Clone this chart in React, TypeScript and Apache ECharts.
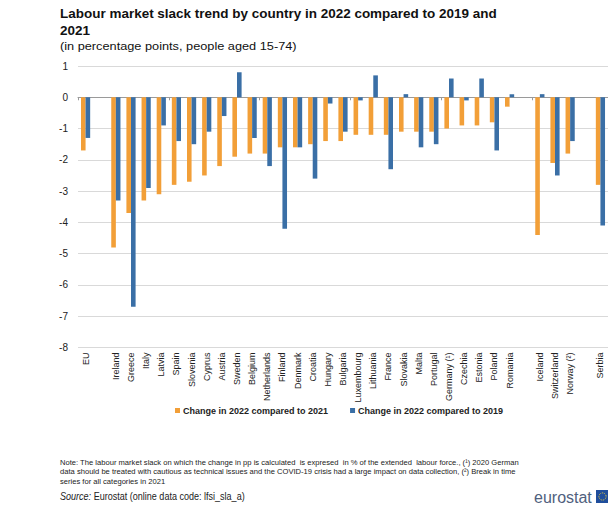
import React, { useEffect, useRef } from "react";
import * as echarts from "echarts";

const categories = [
  "EU", " ", "Ireland", "Greece", "Italy", "Latvia", "Spain", "Slovenia", "Cyprus", "Austria",
  "Sweden", "Belgium", "Netherlands", "Finland", "Denmark", "Croatia", "Hungary", "Bulgaria",
  "Luxembourg", "Lithuania", "France", "Slovakia", "Malta", "Portugal", "Germany (¹)", "Czechia",
  "Estonia", "Poland", "Romania", "  ", "Iceland", "Switzerland", "Norway (²)", "   ", "Serbia",
];

const change2021 = [
  -1.7, null, -4.8, -3.7, -3.3, -3.1, -2.8, -2.7, -2.5, -2.2,
  -1.9, -1.8, -1.8, -1.6, -1.6, -1.5, -1.4, -1.4,
  -1.2, -1.2, -1.2, -1.1, -1.1, -1.1, -1.0, -0.9,
  -0.9, -0.8, -0.3, null, -4.4, -2.1, -1.8, null, -2.8,
];

const change2019 = [
  -1.3, null, -3.3, -6.7, -2.9, -0.9, -1.4, -1.5, -1.1, -0.6,
  0.8, -1.3, -2.2, -4.2, -1.6, -2.6, -0.2, -1.1,
  -0.1, 0.7, -2.3, 0.1, -1.6, -1.5, 0.6, -0.1,
  0.6, -1.7, 0.1, null, 0.1, -2.5, -1.4, null, -4.1,
];

const seriesNames = ["Change in 2022 compared to 2021", "Change in 2022 compared to 2019"];
const colors = ["#F29F38", "#3A6FA6"];

const titleLines = [
  "Labour market slack trend by country in 2022 compared to 2019 and",
  "2021",
];
const subtitle = "(in percentage points, people aged 15-74)";
const noteLines = [
  "Note: The labour market slack on which the change in pp is calculated  is expresed  in % of the extended  labour force., (¹) 2020 German",
  "data should be treated with cautious as technical issues and the COVID-19 crisis had a large impact on data collection, (²) Break in time",
  "series for all categories in 2021",
];

const FONT = "'Liberation Sans', Arial, sans-serif";

function measure(text: string, font: string): number {
  const c = document.createElement("canvas").getContext("2d");
  if (!c) return text.length * 5;
  c.font = font;
  return c.measureText(text).width;
}

function fit(text: string, font: string, target: number): number {
  const w = measure(text, font);
  if (!w) return 1;
  return target / w;
}

export default function App() {
  const ref = useRef<HTMLDivElement>(null);

  useEffect(() => {
    if (!ref.current) return;
    const chart = echarts.init(ref.current, null, { renderer: "svg" });

    const titleFont = `bold 13px ${FONT}`;
    const subFont = `11.5px ${FONT}`;
    const noteFont = `8px ${FONT}`;
    const srcFont = `10px ${FONT}`;

    const titleScale = fit(titleLines[0], titleFont, 437);
    const noteScale = fit(noteLines[0], noteFont, 459);
    const srcText = "Source: Eurostat (online data code: lfsi_sla_a)";
    const srcScale = fit(srcText, srcFont, 185);

    const graphic: any[] = [
      {
        type: "text", x: 60, y: 14, scaleX: titleScale,
        style: { text: titleLines[0], font: titleFont, fill: "#111", textVerticalAlign: "middle" },
      },
      {
        type: "text", x: 60, y: 31, scaleX: titleScale,
        style: { text: titleLines[1], font: titleFont, fill: "#111", textVerticalAlign: "middle" },
      },
      {
        type: "text", x: 60, y: 46, scaleX: fit(subtitle, subFont, 237),
        style: { text: subtitle, font: subFont, fill: "#111", textVerticalAlign: "middle" },
      },
      ...noteLines.map((t, i) => ({
        type: "text", x: 60, y: 462 + i * 9.5, scaleX: noteScale,
        style: { text: t, font: noteFont, fill: "#222", textVerticalAlign: "middle" },
      })),
      {
        type: "text", x: 60, y: 496, scaleX: srcScale,
        style: {
          text: "{i|Source:} Eurostat (online data code: lfsi_sla_a)",
          font: srcFont, fill: "#222", textVerticalAlign: "middle",
          rich: { i: { fontStyle: "italic", fontSize: 10, fontFamily: FONT, fill: "#222" } },
        },
      },
      {
        type: "text", x: 534, y: 497,
        style: { text: "eurostat", font: `16px ${FONT}`, fill: "#50617E", textVerticalAlign: "middle" },
      },
      {
        type: "rect", shape: { x: 596, y: 490, width: 14, height: 13 },
        style: { fill: "#1F4E9C" },
      },
      {
        type: "circle", shape: { cx: 602.5, cy: 496.5, r: 3.6 },
        style: { fill: "none", stroke: "#F2D33A", lineWidth: 1, lineDash: [1, 1] },
      },
    ];

    chart.setOption({
      animation: false,
      textStyle: { fontFamily: FONT },
      grid: { left: 78, top: 66, width: 532, height: 281.5, containLabel: false },
      legend: {
        data: seriesNames,
        left: 170,
        top: 401,
        itemWidth: 5,
        itemHeight: 5,
        itemGap: 22,
        icon: "rect",
        textStyle: { fontSize: 9, fontWeight: "bold", color: "#222", fontFamily: FONT, padding: [0, 0, 0, -2] },
      },
      xAxis: [
        {
          type: "category",
          data: categories,
          position: "bottom",
          axisLine: { show: false, onZero: false },
          axisTick: { show: false },
          axisLabel: { rotate: 90, interval: 0, fontSize: 9, color: "#222", margin: 5, fontFamily: FONT },
        },
        {
          type: "category",
          data: categories,
          position: "bottom",
          axisLine: { show: true, onZero: true, lineStyle: { color: "#9a9a9a", width: 1 } },
          axisTick: { show: true, length: 3, lineStyle: { color: "#9a9a9a" } },
          axisLabel: { show: false },
        },
      ],
      yAxis: {
        type: "value",
        min: -8,
        max: 1,
        interval: 1,
        axisLine: { show: false },
        axisTick: { show: false },
        axisLabel: { fontSize: 10, color: "#222", margin: 10, fontFamily: FONT },
        splitLine: { lineStyle: { color: "#d9d9d9", width: 1 } },
      },
      series: [
        {
          name: seriesNames[0], type: "bar", data: change2021, xAxisIndex: 0,
          barWidth: 4.6, barGap: "0%", itemStyle: { color: colors[0] },
        },
        {
          name: seriesNames[1], type: "bar", data: change2019, xAxisIndex: 0,
          barWidth: 4.6, barGap: "0%", itemStyle: { color: colors[1] },
        },
      ],
      graphic,
    });

    return () => chart.dispose();
  }, []);

  return (
    <div
      ref={ref}
      style={{ position: "absolute", left: 0, top: 0, width: 608, height: 506, background: "#fff" }}
    />
  );
}
